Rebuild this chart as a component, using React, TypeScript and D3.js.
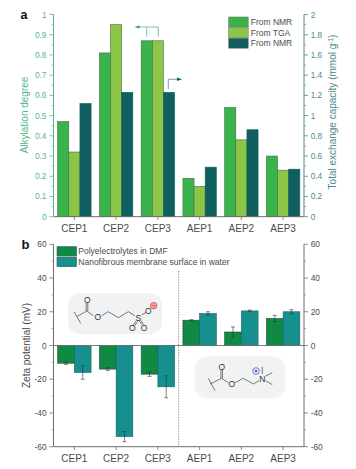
import React from "react";
import * as d3 from "d3";

const categories = ["CEP1", "CEP2", "CEP3", "AEP1", "AEP2", "AEP3"];
const alkylNMR = [0.47, 0.81, 0.87, 0.19, 0.54, 0.3];
const alkylTGA = [0.32, 0.95, 0.87, 0.15, 0.38, 0.23];
const exchangeNMR = [1.12, 1.23, 1.23, 0.49, 0.86, 0.47];
const zetaDMF = [-10.5, -14, -17, 15, 8, 16];
const zetaDMFErr = [0.7, 0.8, 1.3, 0.3, 3, 1.8];
const zetaWater = [-16, -54, -24.5, 19, 20.5, 20];
const zetaWaterErr = [4, 3, 6.5, 1, 0.5, 1.2];
const leftTicksA = d3.range(0, 11).map((d) => d / 10);
const rightTicksA = d3.range(0, 11).map((d) => d / 5);
const ticksB = [-60, -40, -20, 0, 20, 40, 60];
const minorB = [-50, -30, -10, 10, 30, 50];

const GREEN = "#38b44a";
const LIME = "#8bc646";
const TEAL = "#0f5f5f";
const DGREEN = "#0f8a45";
const CYAN = "#16908f";
const AXIS_G = "#52b788";
const AXIS_T = "#4d8a8a";
const GREY = "#6d6e71";
const TXT = "#4a4a4c";
const FONT = "'Liberation Sans'";

const X0 = 53.5;
const X1 = 304;
const x = d3.scaleBand<string>().domain(categories).range([X0, X1]).paddingInner(0.2).paddingOuter(0.1);
const yA = d3.scaleLinear().domain([0, 1]).range([216.7, 14.5]);
const yAR = d3.scaleLinear().domain([0, 2]).range([216.7, 14.5]);
const yB = d3.scaleLinear().domain([-60, 60]).range([446.7, 244.3]);

function T(props: any) {
  return <text {...props} style={{ fontFamily: FONT }} />;
}

function Mol({ lines, texts }: { lines: string; texts: [string, number, number][] }) {
  return (
    <g>
      <path d={lines} fill="none" stroke="#444" strokeWidth={0.7} />
      {texts.map(([t, tx, ty], i) => (
        <T key={i} x={tx} y={ty + 3} fontSize={8.5} textAnchor="middle" fill="#333">
          {t}
        </T>
      ))}
    </g>
  );
}

export default function App() {
  const w3 = x.bandwidth() / 3;
  const w2 = x.bandwidth() / 2;
  const panelA: [number[], string, (v: number) => number][] = [
    [alkylNMR, GREEN, yA],
    [alkylTGA, LIME, yA],
    [exchangeNMR, TEAL, yAR],
  ];
  return (
    <svg width={356} height={469} style={{ position: "absolute", left: 0, top: 0 }}>
      <rect width={356} height={469} fill="#fff" />
      {/* Panel a */}
      <T x={20.5} y={18.5} fontSize={12.5} fontWeight="bold" fill="#111">a</T>
      {panelA.map(([vals, color, sc], s) =>
        vals.map((v, i) => (
          <rect key={`a${s}${i}`} x={x(categories[i])! + s * w3} y={sc(v)} width={w3} height={216.7 - sc(v)} fill={color} stroke={s === 2 ? TEAL : "#4d6b50"} strokeWidth={0.6} />
        ))
      )}
      <line x1={X0} x2={X1} y1={216.7} y2={216.7} stroke={GREY} strokeWidth={1} />
      {categories.map((c) => {
        const cx = x(c)! + x.bandwidth() / 2;
        return (
          <g key={c}>
            <line x1={cx} x2={cx} y1={216.7} y2={220} stroke={GREY} strokeWidth={0.8} />
            <T x={cx} y={232} fontSize={10} textAnchor="middle" fill={TXT}>{c}</T>
          </g>
        );
      })}
      <line x1={X0} x2={X0} y1={14.5} y2={216.7} stroke={AXIS_G} strokeWidth={1} />
      {leftTicksA.map((t) => (
        <g key={t}>
          <line x1={X0 - 4} x2={X0} y1={yA(t)} y2={yA(t)} stroke={AXIS_G} strokeWidth={0.8} />
          {t < 1 && <line x1={X0 - 2} x2={X0} y1={yA(t + 0.05)} y2={yA(t + 0.05)} stroke={AXIS_G} strokeWidth={0.6} />}
          <T x={X0 - 7} y={yA(t) + 3} fontSize={8.3} textAnchor="end" fill={AXIS_G}>{t}</T>
        </g>
      ))}
      <line x1={X1} x2={X1} y1={14.5} y2={216.7} stroke={AXIS_T} strokeWidth={1} />
      {rightTicksA.map((t) => (
        <g key={t}>
          <line x1={X1} x2={X1 + 4} y1={yAR(t)} y2={yAR(t)} stroke={AXIS_T} strokeWidth={0.8} />
          {t < 2 && <line x1={X1} x2={X1 + 2} y1={yAR(t + 0.1)} y2={yAR(t + 0.1)} stroke={AXIS_T} strokeWidth={0.6} />}
          <T x={X1 + 6.7} y={yAR(t) + 3} fontSize={8.3} fill={AXIS_T}>{t}</T>
        </g>
      ))}
      <T transform="translate(27.5,115) rotate(-90)" fontSize={10} textAnchor="middle" fill={AXIS_G}>Alkylation degree</T>
      <T transform="translate(336,112) rotate(-90)" fontSize={10} textAnchor="middle" fill={AXIS_T}>
        Total exchange capacity (mmol g<tspan dy={-3} fontSize={6.5}>-1</tspan><tspan dy={3}>)</tspan>
      </T>
      {/* arrows */}
      <path d="M137 27 H158.300 V36.700 M146.700 27 V36.700" fill="none" stroke={AXIS_G} strokeWidth={0.8} />
      <path d="M134.500 27 L139.500 25.300 V28.700 Z" fill={GREEN} />
      <path d="M168.300 89 V79.300 H178" fill="none" stroke={AXIS_T} strokeWidth={0.8} />
      <path d="M182 79.300 L177 77.600 V81 Z" fill={TEAL} />
      {/* legend a */}
      {[["From NMR", GREEN], ["From TGA", LIME], ["From NMR", TEAL]].map(([l, c], i) => (
        <g key={i}>
          <rect x={228.7} y={17 + i * 10.6} width={19.5} height={10} fill={c} stroke="#6d7a70" strokeWidth={0.6} />
          <T x={250.7} y={25 + i * 10.65} fontSize={8.5} fill={TXT}>{l}</T>
        </g>
      ))}

      {/* Panel b */}
      <T x={21.5} y={249} fontSize={13} fontWeight="bold" fill="#111">b</T>
      {categories.map((c, i) => {
        const bx = x(c)!;
        const items: [number, number, string, string][] = [
          [zetaDMF[i], zetaDMFErr[i], DGREEN, "#1c4d33"],
          [zetaWater[i], zetaWaterErr[i], CYAN, "#1c5f5f"],
        ];
        return items.map(([v, e, col, st], s) => {
          const cx = bx + (s + 0.5) * w2;
          const tipB = yB(v + e);
          const tipC = yB(v - e);
          return (
            <g key={`${c}${s}`}>
              <rect x={bx + s * w2} y={Math.min(yB(0), yB(v))} width={w2} height={Math.abs(yB(0) - yB(v))} fill={col} stroke={st} strokeWidth={0.6} />
              <path d={`M${cx} ${tipB} V${tipC} M${cx - 2} ${tipB} H${cx + 2} M${cx - 2} ${tipC} H${cx + 2}`} stroke="#333" strokeWidth={0.6} fill="none" />
            </g>
          );
        });
      })}
      <line x1={X0} x2={X1} y1={yB(0)} y2={yB(0)} stroke={GREY} strokeWidth={0.9} />
      <line x1={X0} x2={X1} y1={446.7} y2={446.7} stroke={GREY} strokeWidth={1} />
      <line x1={178.7} x2={178.7} y1={271} y2={446.7} stroke={GREY} strokeWidth={0.7} strokeDasharray="1.5 1.2" />
      {categories.map((c) => {
        const cx = x(c)! + x.bandwidth() / 2;
        return (
          <g key={c}>
            <line x1={cx} x2={cx} y1={446.7} y2={450} stroke={GREY} strokeWidth={0.8} />
            <T x={cx} y={462} fontSize={10} textAnchor="middle" fill={TXT}>{c}</T>
          </g>
        );
      })}
      <line x1={X0} x2={X0} y1={244.3} y2={446.7} stroke={GREY} strokeWidth={1} />
      <line x1={X1} x2={X1} y1={244.3} y2={446.7} stroke={GREY} strokeWidth={1} />
      {ticksB.map((t) => (
        <g key={t}>
          <line x1={X0 - 4} x2={X0} y1={yB(t)} y2={yB(t)} stroke={GREY} strokeWidth={0.8} />
          <line x1={X1} x2={X1 + 4} y1={yB(t)} y2={yB(t)} stroke={GREY} strokeWidth={0.8} />
          <T x={X0 - 7} y={yB(t) + 3} fontSize={8.3} textAnchor="end" fill={TXT}>{t}</T>
          <T x={X1 + 6.7} y={yB(t) + 3} fontSize={8.3} fill={TXT}>{t}</T>
        </g>
      ))}
      {minorB.map((t) => (
        <g key={t}>
          <line x1={X0 - 2} x2={X0} y1={yB(t)} y2={yB(t)} stroke={GREY} strokeWidth={0.6} />
          <line x1={X1} x2={X1 + 2} y1={yB(t)} y2={yB(t)} stroke={GREY} strokeWidth={0.6} />
        </g>
      ))}
      <T transform="translate(30,345.500) rotate(-90)" fontSize={10} textAnchor="middle" fill={TXT}>Zeta potential (mV)</T>
      {[["Polyelectrolytes in DMF", DGREEN], ["Nanofibrous membrane surface in water", CYAN]].map(([l, c], i) => (
        <g key={i}>
          <rect x={57} y={246.7 + i * 10.6} width={19.5} height={9.4} fill={c} stroke="#33594f" strokeWidth={0.6} />
          <T x={78.3} y={254 + i * 10.6} fontSize={8.5} fill={TXT}>{l}</T>
        </g>
      ))}
      {/* molecule cards */}
      <rect x={68} y={293} width={94} height={41} rx={12} fill="#f0f2f4" />
      <Mol
        lines="M74 311.700 L80.700 323.300 M76.700 316.700 L86.700 311 L93.300 315.700 M86.200 311 V303 M87.800 311 V303 M101.700 315.700 L108.300 311.700 L118.300 317.700 L128.300 311.700 L135 315.700 M141.700 315 L146 312.300 M136 321 L133.300 325 M137.500 321.500 L134.800 325.500 M139.500 321 L142.200 325 M141 320.500 L143.700 324.500"
        texts={[["O", 87.3, 300], ["O", 97.7, 317.3], ["S", 138.3, 317.7], ["O", 148.3, 311], ["O", 132.3, 327.7], ["O", 144, 327.7]]}
      />
      <circle cx={153.700} cy={305.700} r={3.2} fill="#f6a5a0" stroke="#e0403a" strokeWidth={0.8} />
      <line x1={152} x2={155.400} y1={305.700} y2={305.700} stroke="#e0403a" strokeWidth={0.8} />
      <rect x={195} y={356.500} width={90} height={42} rx={12} fill="#f0f2f4" />
      <Mol
        lines="M208.300 378.300 L215 390.700 M210 384 L221.700 378.300 L228.300 382.700 M220.900 378.300 V370 M222.500 378.300 V370 M235 382.700 L243.300 378.300 L253.300 384 L259 380.700 M262.300 374 V366.700 M265.700 376 L272.300 372.700 M265.700 380.700 L272.300 384.700"
        texts={[["O", 221.7, 366.7], ["O", 231.7, 384.3], ["N", 262.3, 379.3]]}
      />
      <circle cx={256} cy={371} r={3.3} fill="none" stroke="#4a5fc0" strokeWidth={0.8} />
      <circle cx={256} cy={371} r={1.3} fill="#4a5fc0" />
    </svg>
  );
}
